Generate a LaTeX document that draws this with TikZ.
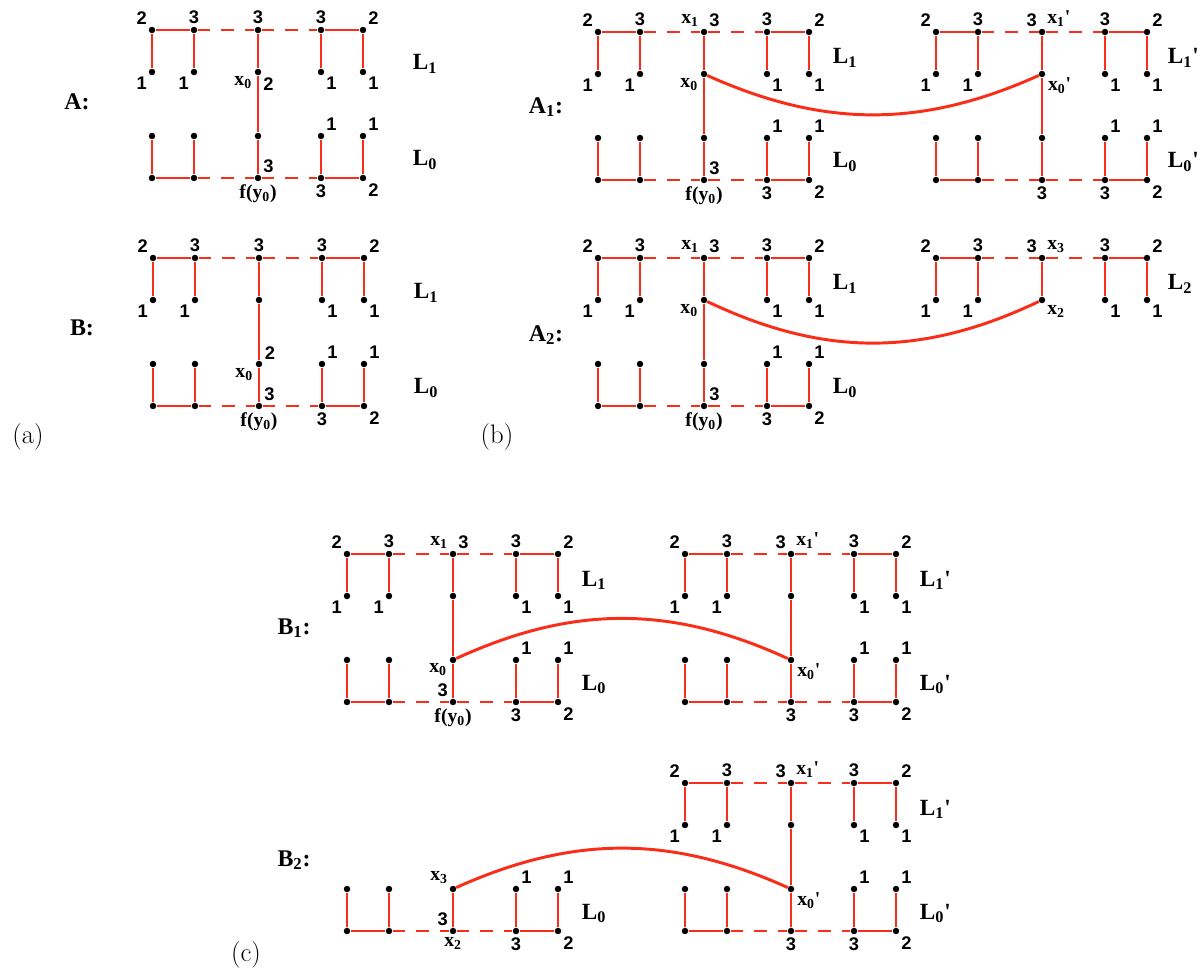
\documentclass[tikz,border=0pt]{standalone}
\usepackage{fontspec}
\usepackage{xcolor}
\usepackage{tikz}
\newfontfamily\numfont{Liberation Sans}
\newfontfamily\serfont{Liberation Serif}
\definecolor{edgered}{RGB}{250,45,25}

\newcommand{\vx}[1]{x\textsubscript{#1}}
\newcommand{\vL}[1]{L\textsubscript{#1}}

\newcommand{\upperlayer}[1]{%
  \node[dot, label={[num]above left:2}] (u1) at (0,0) {};
  \node[dot, label={[num]above:3}] (u2) at (42,0) {};
  \node[dot, #1] (u3) at (106,0) {};
  \node[dot, label={[num]above:3}] (u4) at (169,0) {};
  \node[dot, label={[num]above right:2}] (u5) at (211,0) {};
  \node[dot, label={[num]below left:1}] (v1) at (0,42) {};
  \node[dot, label={[num]below left:1}] (v2) at (42,42) {};
  \node[dot, label={[num]below right:1}] (v4) at (169,42) {};
  \node[dot, label={[num]below right:1}] (v5) at (211,42) {};
  \draw[seg] (v1) -- (u1) -- (u2) -- (v2);
  \draw[seg] (v4) -- (u4) -- (u5) -- (v5);
  \draw[dseg] (u2) -- (u3) -- (u4);
}

\newcommand{\lowerlayer}[1]{%
  \node[dot] (w1) at (0,106) {};
  \node[dot] (w2) at (42,106) {};
  \node[dot, label={[num]above right:1}] (w4) at (169,106) {};
  \node[dot, label={[num]above right:1}] (w5) at (211,106) {};
  \node[dot] (z1) at (0,148) {};
  \node[dot] (z2) at (42,148) {};
  \node[dot, #1] (z3) at (106,148) {};
  \node[dot, label={[num]below:3}] (z4) at (169,148) {};
  \node[dot, label={[num]below right:2}] (z5) at (211,148) {};
  \draw[seg] (w1) -- (z1) -- (z2) -- (w2);
  \draw[seg] (w4) -- (z4) -- (z5) -- (w5);
  \draw[dseg] (z2) -- (z3) -- (z4);
}

\begin{document}
\begin{tikzpicture}[
    x=0.025cm, y=-0.025cm,
    dot/.style={circle, fill=black, inner sep=0pt, minimum size=4.6pt},
    seg/.style={draw=edgered, line width=1.4pt},
    dseg/.style={seg, dash pattern=on 9pt off 8pt},
    bridge/.style={draw=edgered, line width=2.1pt},
    num/.style={inner sep=1.8pt, font=\numfont\bfseries\fontsize{13}{15}\selectfont},
    ser/.style={inner sep=1.8pt, font=\serfont\bfseries\fontsize{14}{16}\selectfont},
    layer/.style={anchor=base west, font=\serfont\bfseries\fontsize{16.5}{19}\selectfont},
    head/.style={font=\serfont\bfseries\fontsize{17}{20}\selectfont},
    panel/.style={font=\fontsize{19}{22}\selectfont},
  ]

  \useasboundingbox (0,0) rectangle (1201,970);

  \begin{scope}[shift={(152,30)}, name prefix=A-]
    \upperlayer{label={[num]above:3}}
    \node[dot, label={[ser]200:\vx{0}}, label={[num]below right:2}] (v3) at (106,42) {};
    \node[dot] (w3) at (106,106) {};
    \lowerlayer{label={[num]above right:3}, label={[ser]below:f(y\textsubscript{0})}}
    \draw[seg] (u3) -- (v3) -- (w3) -- (z3);
    \node[layer] (top) at (256,40) {\vL{1}};
    \node[layer] (bot) at (256,136) {\vL{0}};
  \end{scope}

  \begin{scope}[shift={(153,258)}, name prefix=B-]
    \upperlayer{label={[num]above:3}}
    \node[dot] (v3) at (106,42) {};
    \node[dot, label={[ser]200:\vx{0}}, label={[num]30:2}] (w3) at (106,106) {};
    \lowerlayer{label={[num]above right:3}, label={[ser]below:f(y\textsubscript{0})}}
    \draw[seg] (u3) -- (v3) -- (w3) -- (z3);
    \node[layer] (top) at (256,41) {\vL{1}};
    \node[layer] (bot) at (256,136) {\vL{0}};
  \end{scope}

  \begin{scope}[shift={(598,32)}, name prefix=A1l-]
    \upperlayer{label={[ser]above left:\vx{1}}, label={[num]above right:3}}
    \node[dot, label={[ser]200:\vx{0}}] (v3) at (106,42) {};
    \node[dot] (w3) at (106,106) {};
    \lowerlayer{label={[num]above right:3}, label={[ser]below:f(y\textsubscript{0})}}
    \draw[seg] (u3) -- (v3) -- (w3) -- (z3);
    \node[layer] (top) at (230,32) {\vL{1}};
    \node[layer] (bot) at (230,136) {\vL{0}};
  \end{scope}

  \begin{scope}[shift={(936,32)}, name prefix=A1r-]
    \upperlayer{label={[num]above left:3}, label={[ser]above right:\vx{1}\textquotesingle}}
    \node[dot, label={[ser]-20:\vx{0}\textquotesingle}] (v3) at (106,42) {};
    \node[dot] (w3) at (106,106) {};
    \lowerlayer{label={[num]below:3}}
    \draw[seg] (u3) -- (v3) -- (w3) -- (z3);
    \node[layer] (top) at (227,32) {\vL{1}\textquotesingle};
    \node[layer] (bot) at (227,136) {\vL{0}\textquotesingle};
  \end{scope}

  \begin{scope}[shift={(598,258)}, name prefix=A2l-]
    \upperlayer{label={[ser]above left:\vx{1}}, label={[num]above right:3}}
    \node[dot, label={[ser]200:\vx{0}}] (v3) at (106,42) {};
    \node[dot] (w3) at (106,106) {};
    \lowerlayer{label={[num]above right:3}, label={[ser]below:f(y\textsubscript{0})}}
    \draw[seg] (u3) -- (v3) -- (w3) -- (z3);
    \node[layer] (top) at (230,32) {\vL{1}};
    \node[layer] (bot) at (230,136) {\vL{0}};
  \end{scope}

  \begin{scope}[shift={(936,258)}, name prefix=A2r-]
    \upperlayer{label={[num]above left:3}, label={[ser]above right:\vx{3}}}
    \node[dot, label={[ser]below right:\vx{2}}] (v3) at (106,42) {};
    \draw[seg] (u3) -- (v3);
    \node[layer] (top) at (227,32) {\vL{2}};
  \end{scope}

  \begin{scope}[shift={(347,554)}, name prefix=B1l-]
    \upperlayer{label={[ser]above left:\vx{1}}, label={[num]above right:3}}
    \node[dot] (v3) at (106,42) {};
    \node[dot, label={[ser]190:\vx{0}}] (w3) at (106,106) {};
    \lowerlayer{label={[num]above left:3}, label={[ser]below:f(y\textsubscript{0})}}
    \draw[seg] (u3) -- (v3) -- (w3) -- (z3);
    \node[layer] (top) at (230,32) {\vL{1}};
    \node[layer] (bot) at (230,136) {\vL{0}};
  \end{scope}

  \begin{scope}[shift={(685,554)}, name prefix=B1r-]
    \upperlayer{label={[num]above left:3}, label={[ser]above right:\vx{1}\textquotesingle}}
    \node[dot] (v3) at (106,42) {};
    \node[dot, label={[ser]-5:\vx{0}\textquotesingle}] (w3) at (106,106) {};
    \lowerlayer{label={[num]below:3}}
    \draw[seg] (u3) -- (v3) -- (w3) -- (z3);
    \node[layer] (top) at (230,32) {\vL{1}\textquotesingle};
    \node[layer] (bot) at (230,136) {\vL{0}\textquotesingle};
  \end{scope}

  \begin{scope}[shift={(347,783)}, name prefix=B2l-]
    \node[dot, label={[ser]above left:\vx{3}}] (w3) at (106,106) {};
    \lowerlayer{label={[num]above left:3}, label={[ser]below:\vx{2}}}
    \draw[seg] (w3) -- (z3);
    \node[layer] (bot) at (230,136) {\vL{0}};
  \end{scope}

  \begin{scope}[shift={(685,783)}, name prefix=B2r-]
    \upperlayer{label={[num]above left:3}, label={[ser]above right:\vx{1}\textquotesingle}}
    \node[dot] (v3) at (106,42) {};
    \node[dot, label={[ser]-5:\vx{0}\textquotesingle}] (w3) at (106,106) {};
    \lowerlayer{label={[num]below:3}}
    \draw[seg] (u3) -- (v3) -- (w3) -- (z3);
    \node[layer] (top) at (230,32) {\vL{1}\textquotesingle};
    \node[layer] (bot) at (230,136) {\vL{0}\textquotesingle};
  \end{scope}

  \draw[bridge] (A1l-v3) .. controls +(120,54) and +(-120,54) .. (A1r-v3);
  \draw[bridge] (A2l-v3) .. controls +(120,57) and +(-120,57) .. (A2r-v3);
  \draw[bridge] (B1l-w3) .. controls +(120,-55) and +(-120,-55) .. (B1r-w3);
  \draw[bridge] (B2l-w3) .. controls +(120,-54) and +(-120,-54) .. (B2r-w3);

  \node[head] (hA) at (77,102) {A:};
  \node[head] (hB) at (82,328) {B:};
  \node[head] (hA1) at (546,107) {A\textsubscript{1}:};
  \node[head] (hA2) at (546,335) {A\textsubscript{2}:};
  \node[head] (hB1) at (294,628) {B\textsubscript{1}:};
  \node[head] (hB2) at (294,860) {B\textsubscript{2}:};
  \node[panel] (pa) at (28,437) {(a)};
  \node[panel] (pb) at (497,437) {(b)};
  \node[panel] (pc) at (246,955) {(c)};

\end{tikzpicture}
\end{document}
